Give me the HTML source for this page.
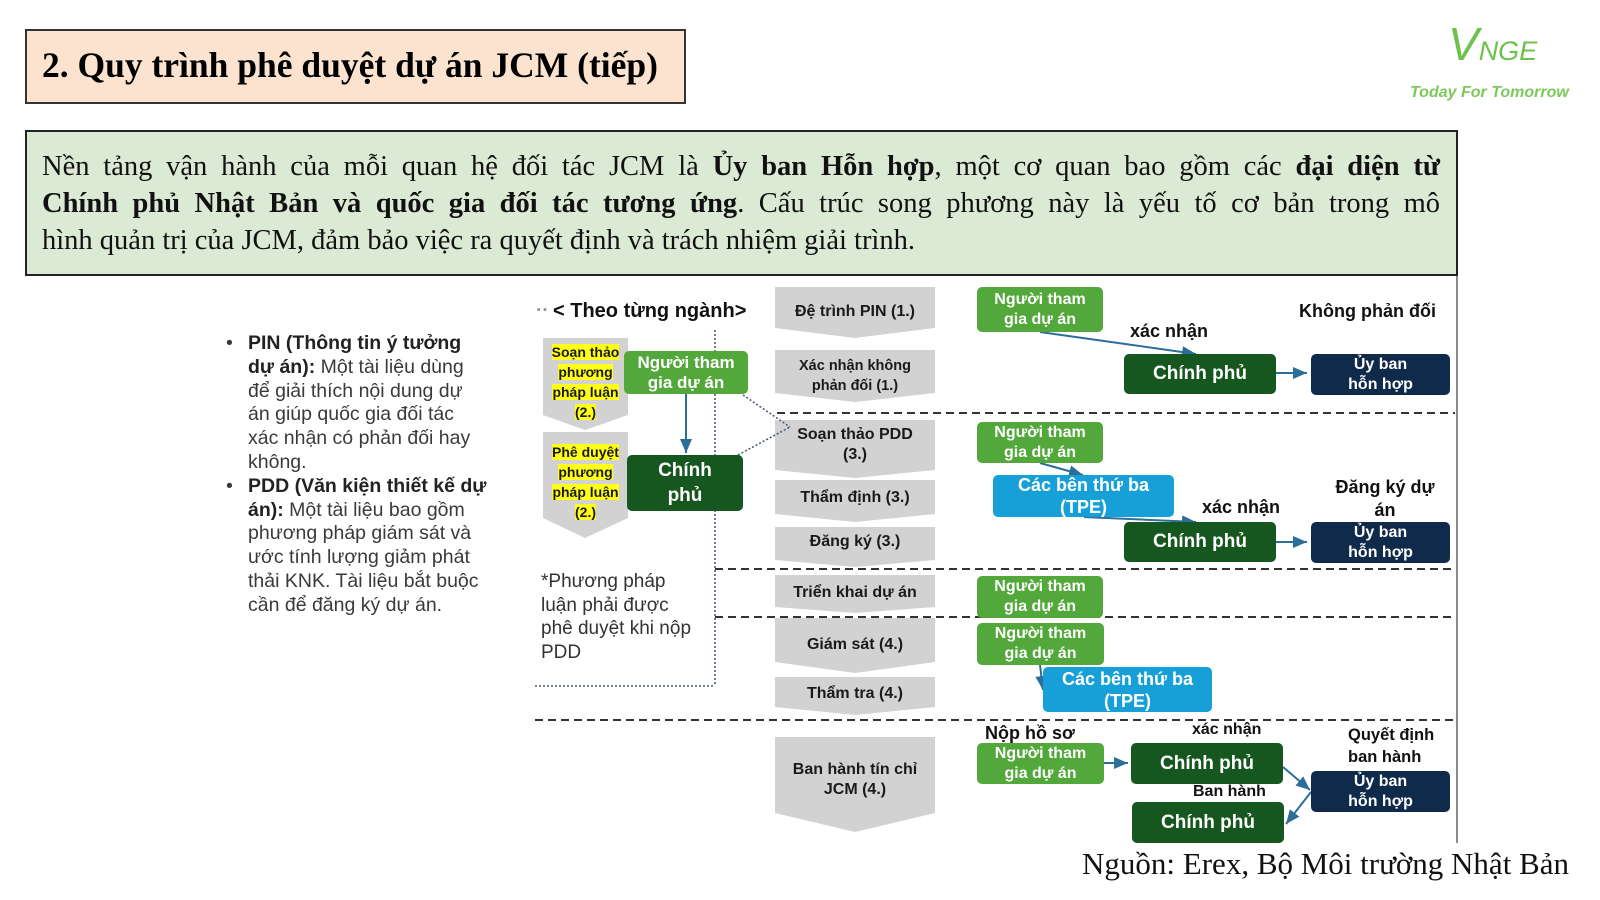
<!DOCTYPE html>
<html><head><meta charset="utf-8"><style>
body{margin:0;width:1600px;height:900px;background:#fff;position:relative;overflow:hidden;font-family:"Liberation Sans",sans-serif}
.a{position:absolute}
.bx{position:absolute;display:flex;align-items:center;justify-content:center;text-align:center;color:#fff;font-weight:bold;border-radius:5px;box-sizing:border-box}
.g{background:#52a83a;font-size:16px;line-height:20px}
.d{background:#16561f;font-size:19px}
.n{background:#0f2a4a;font-size:16px;line-height:20px}
.t{background:#17a0d8;font-size:18px;line-height:22px}
.lb{position:absolute;font-weight:bold;font-size:18px;color:#111;white-space:nowrap}
.cv{position:absolute;font-weight:bold;font-size:16px;color:#1a1a1a;text-align:center;line-height:20px}
.y{background:#ffff1a}
.jl{text-align:justify;text-align-last:justify;white-space:nowrap;height:37px}
</style></head><body>
<div class="a" style="left:25px;top:29px;width:657px;height:71px;background:#fce3cf;border:2px solid #333"></div>
<div class="a" style="left:42px;top:44px;font-family:'Liberation Serif',serif;font-weight:bold;font-size:35.5px;white-space:nowrap">2. Quy trình phê duyệt dự án JCM (tiếp)</div>

<div class="a" style="left:1448px;top:20px;font-family:'Liberation Sans',sans-serif;font-style:italic;color:#6cc24a;font-size:46px;line-height:48px">V<span style="font-size:27px">NGE</span></div>
<div class="a" style="left:1410px;top:84px;font-style:italic;font-weight:bold;color:#7cc85a;font-size:16px;white-space:nowrap">Today For Tomorrow</div>

<div class="a" style="left:25px;top:130px;width:1429px;height:142px;background:#dbead4;border:2px solid #222"></div>
<div class="a" style="left:42px;top:148px;width:1398px;font-family:'Liberation Serif',serif;font-size:28.5px;line-height:37px;color:#111">
<div class="jl">Nền tảng vận hành của mỗi quan hệ đối tác JCM là <b>Ủy ban Hỗn hợp</b>, một cơ quan bao gồm các <b>đại diện từ</b></div>
<div class="jl"><b>Chính phủ Nhật Bản và quốc gia đối tác tương ứng</b>. Cấu trúc song phương này là yếu tố cơ bản trong mô</div>
<div style="white-space:nowrap">hình quản trị của JCM, đảm bảo việc ra quyết định và trách nhiệm giải trình.</div>
</div>

<div class="a" style="left:226px;top:332px;font-size:19.5px;line-height:23.8px;color:#3a3a3a;white-space:nowrap">
<div style="position:relative;padding-left:22px"><span style="position:absolute;left:0">•</span><b style="color:#222">PIN (Thông tin ý tưởng</b><br><b style="color:#222">dự án):</b> Một tài liệu dùng<br>để giải thích nội dung dự<br>án giúp quốc gia đối tác<br>xác nhận có phản đối hay<br>không.</div>
<div style="position:relative;padding-left:22px"><span style="position:absolute;left:0">•</span><b style="color:#222">PDD (Văn kiện thiết kế dự</b><br><b style="color:#222">án):</b> Một tài liệu bao gồm<br>phương pháp giám sát và<br>ước tính lượng giảm phát<br>thải KNK. Tài liệu bắt buộc<br>cần để đăng ký dự án.</div>
</div>

<svg class="a" style="left:0;top:0" width="1600" height="900">
<defs><marker id="ar" markerWidth="8" markerHeight="8" refX="7" refY="4" orient="auto"><path d="M0,1 L7,4 L0,7 Z" fill="#2c6e9a"/></marker></defs>
<g fill="#d2d2d2">
<path d="M775 287H935V328L855 338L775 328Z"/>
<path d="M775 350H935V393L855 402L775 393Z"/>
<path d="M775 420H935V470L855 478L775 470Z"/>
<path d="M775 480H935V514L855 522L775 514Z"/>
<path d="M775 527H935V560L855 567L775 560Z"/>
<path d="M775 575H935V607L855 613L775 607Z"/>
<path d="M775 618H935V662L855 673L775 662Z"/>
<path d="M775 677H935V707L855 715L775 707Z"/>
<path d="M775 737H935V813L855 832L775 813Z"/>
<path d="M543 338H628V415L585 430L543 415Z"/>
<path d="M543 432H628V518L585 538L543 518Z"/>
</g>
<g stroke="#333" stroke-width="2" stroke-dasharray="8 5" fill="none">
<line x1="777" y1="413" x2="1455" y2="413"/>
<line x1="715" y1="569" x2="1455" y2="569"/>
<line x1="715" y1="617" x2="1455" y2="617"/>
<line x1="535" y1="720" x2="1455" y2="720"/>
</g>
<g stroke="#4a5a7a" stroke-width="1.6" stroke-dasharray="2 2" fill="none">
<line x1="715" y1="330" x2="715" y2="686"/>
<line x1="535" y1="686" x2="715" y2="686"/>
<line x1="743" y1="395" x2="790" y2="427"/>
<line x1="738" y1="455" x2="790" y2="427"/>
</g>
<line x1="1457" y1="276" x2="1457" y2="843" stroke="#666" stroke-width="1.5"/>
<g stroke="#2c6e9a" stroke-width="2" fill="none" marker-end="url(#ar)">
<line x1="686" y1="394" x2="686" y2="453"/>
<line x1="1040" y1="332" x2="1196" y2="354"/>
<line x1="1276" y1="373" x2="1307" y2="373"/>
<line x1="1040" y1="463" x2="1083" y2="475"/>
<line x1="1084" y1="517" x2="1196" y2="522"/>
<line x1="1276" y1="542" x2="1307" y2="542"/>
<line x1="1040" y1="665" x2="1043" y2="690"/>
<line x1="1104" y1="763" x2="1128" y2="763"/>
<line x1="1283" y1="767" x2="1310" y2="790"/>
<line x1="1311" y1="792" x2="1286" y2="824"/>
</g>
</svg>

<div class="lb" style="left:536px;top:300px;font-size:19px;color:#999">··</div>
<div class="lb" style="left:553px;top:300px;font-size:20px">&lt; Theo từng ngành&gt;</div>

<div class="cv" style="left:775px;top:302px;width:160px">Đệ trình PIN (1.)</div>
<div class="cv" style="left:775px;top:356px;width:160px;font-size:14.5px">Xác nhận không<br>phản đối (1.)</div>
<div class="cv" style="left:775px;top:425px;width:160px">Soạn thảo PDD<br>(3.)</div>
<div class="cv" style="left:775px;top:488px;width:160px">Thẩm định (3.)</div>
<div class="cv" style="left:775px;top:532px;width:160px">Đăng ký (3.)</div>
<div class="cv" style="left:775px;top:583px;width:160px">Triển khai dự án</div>
<div class="cv" style="left:775px;top:635px;width:160px">Giám sát (4.)</div>
<div class="cv" style="left:775px;top:684px;width:160px">Thẩm tra (4.)</div>
<div class="cv" style="left:775px;top:760px;width:160px">Ban hành tín chỉ<br>JCM (4.)</div>

<div class="cv" style="left:543px;top:342px;width:85px;font-size:14px">
<span class="y">Soạn thảo</span><br><span class="y">phương</span><br><span class="y">pháp luận</span><br><span class="y">(2.)</span></div>
<div class="cv" style="left:543px;top:442px;width:85px;font-size:14px">
<span class="y">Phê duyệt</span><br><span class="y">phương</span><br><span class="y">pháp luận</span><br><span class="y">(2.)</span></div>

<div class="bx g" style="left:624px;top:351px;width:124px;height:43px;font-size:17px">Người tham<br>gia dự án</div>
<div class="bx d" style="left:627px;top:455px;width:116px;height:56px;line-height:25px">Chính<br>phủ</div>

<div class="a" style="left:541px;top:570px;font-size:19px;line-height:23.5px;color:#333;white-space:nowrap">*Phương pháp<br>luận phải được<br>phê duyệt khi nộp<br>PDD</div>

<div class="bx g" style="left:977px;top:287px;width:126px;height:45px">Người tham<br>gia dự án</div>
<div class="lb" style="left:1130px;top:321px">xác nhận</div>
<div class="lb" style="left:1299px;top:301px">Không phản đối</div>
<div class="bx d" style="left:1124px;top:354px;width:152px;height:40px">Chính phủ</div>
<div class="bx n" style="left:1311px;top:354px;width:139px;height:41px">Ủy ban<br>hỗn hợp</div>

<div class="bx g" style="left:977px;top:422px;width:126px;height:41px">Người tham<br>gia dự án</div>
<div class="bx t" style="left:993px;top:475px;width:181px;height:42px">Các bên thứ ba<br>(TPE)</div>
<div class="lb" style="left:1202px;top:497px">xác nhận</div>
<div class="lb" style="left:1310px;top:476px;width:150px;text-align:center;line-height:23px">Đăng ký dự<br>án</div>
<div class="bx d" style="left:1124px;top:522px;width:152px;height:40px">Chính phủ</div>
<div class="bx n" style="left:1311px;top:522px;width:139px;height:41px">Ủy ban<br>hỗn hợp</div>

<div class="bx g" style="left:977px;top:576px;width:126px;height:42px">Người tham<br>gia dự án</div>
<div class="bx g" style="left:977px;top:623px;width:127px;height:42px">Người tham<br>gia dự án</div>
<div class="bx t" style="left:1043px;top:667px;width:169px;height:45px">Các bên thứ ba<br>(TPE)</div>

<div class="lb" style="left:985px;top:723px">Nộp hồ sơ</div>
<div class="bx g" style="left:977px;top:743px;width:127px;height:41px">Người tham<br>gia dự án</div>
<div class="lb" style="left:1192px;top:721px;font-size:16px">xác nhận</div>
<div class="bx d" style="left:1131px;top:743px;width:152px;height:41px">Chính phủ</div>
<div class="lb" style="left:1193px;top:783px;font-size:16px">Ban hành</div>
<div class="bx d" style="left:1132px;top:802px;width:152px;height:41px">Chính phủ</div>
<div class="lb" style="left:1348px;top:724px;font-size:16.5px;line-height:22px">Quyết định<br>ban hành</div>
<div class="bx n" style="left:1311px;top:771px;width:139px;height:41px">Ủy ban<br>hỗn hợp</div>

<div class="a" style="right:31px;top:846px;font-family:'Liberation Serif',serif;font-size:31px;color:#111;white-space:nowrap">Nguồn: Erex, Bộ Môi trường Nhật Bản</div>
</body></html>
